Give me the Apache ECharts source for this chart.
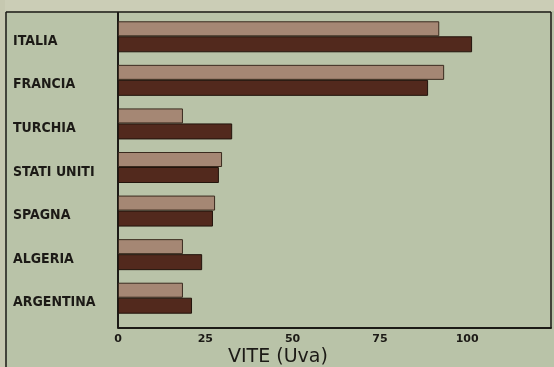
<!DOCTYPE html>
<html>
<head>
<meta charset="utf-8">
<script src="https://cdn.jsdelivr.net/npm/echarts@6/dist/echarts.min.js"></script>
<style>
  html, body { margin: 0; padding: 0; background: #b9c3a8; }
  #chart { width: 554px; height: 367px; }
</style>
</head>
<body>
<div id="chart"></div>
<script>
// Paesi (dall'alto in basso)
const countries = ["ITALIA", "FRANCIA", "TURCHIA", "STATI UNITI", "SPAGNA", "ALGERIA", "ARGENTINA"];
// barra chiara (superiore) e barra scura (inferiore)
const lightValues = [92, 93.4, 18.6, 29.8, 27.8, 18.6, 18.6];
const darkValues = [101.4, 88.8, 32.7, 28.9, 27.2, 24.1, 21.2];
const xTicks = [0, 25, 50, 75, 100];
const axisTitle = "VITE (Uva)";

const BG = "#b9c3a8";
const LIGHT = "#a58774";
const DARK = "#52291d";
const INK = "#1c1a16";

const chart = echarts.init(document.getElementById("chart"));

chart.setOption({
  backgroundColor: BG,
  animation: false,
  grid: { left: 118, right: 3, top: 15, bottom: 47 },
  xAxis: {
    type: "value",
    min: 0,
    max: 124,
    interval: 25,
    offset: 8,
    axisLine: { show: true, lineStyle: { color: INK, width: 2 } },
    axisTick: { show: false },
    splitLine: { show: false },
    axisLabel: {
      showMaxLabel: false,
      color: INK,
      fontFamily: "DejaVu Sans",
      fontWeight: "bold",
      fontSize: 11,
      margin: 6,
      formatter: (v) => (xTicks.includes(v) ? String(v) : ""),
    },
  },
  yAxis: {
    type: "category",
    data: countries,
    inverse: true,
    axisLine: { show: false },
    axisTick: { show: false },
    axisLabel: {
      align: "left",
      verticalAlign: "top",
      lineHeight: 9,
      margin: 105,
      color: INK,
      fontFamily: "DejaVu Sans Condensed",
      fontWeight: "bold",
      fontSize: 14,
    },
  },
  graphic: [
    // striscia chiara in alto e a sinistra
    { type: "rect", shape: { x: 0, y: 0, width: 554, height: 11 }, style: { fill: "#cbcdb6" }, z: -10 },
    { type: "rect", shape: { x: 0, y: 0, width: 5, height: 367 }, style: { fill: "#c6c8b0" }, z: -10 },
    // cornice
    { type: "line", shape: { x1: 6, y1: 12, x2: 551, y2: 12 }, style: { stroke: INK, lineWidth: 1.5 } },
    { type: "line", shape: { x1: 6, y1: 12, x2: 6, y2: 367 }, style: { stroke: INK, lineWidth: 1.5 } },
    { type: "line", shape: { x1: 118, y1: 12, x2: 118, y2: 328 }, style: { stroke: INK, lineWidth: 2 } },
    { type: "line", shape: { x1: 551, y1: 12, x2: 551, y2: 328 }, style: { stroke: INK, lineWidth: 1.5 } },
    {
      type: "text",
      left: 228,
      top: 348,
      style: { text: axisTitle, fill: INK, font: "19px 'DejaVu Sans'" },
    },
  ],
  series: [
    {
      name: "chiaro",
      type: "bar",
      data: lightValues,
      barWidth: 15,
      barGap: "0%",
      itemStyle: { color: LIGHT, borderColor: "#3a2a1e", borderWidth: 1 },
    },
    {
      name: "scuro",
      type: "bar",
      data: darkValues,
      barWidth: 16,
      barGap: "0%",
      itemStyle: { color: DARK, borderColor: "#22140c", borderWidth: 1 },
    },
  ],
});
</script>
</body>
</html>
